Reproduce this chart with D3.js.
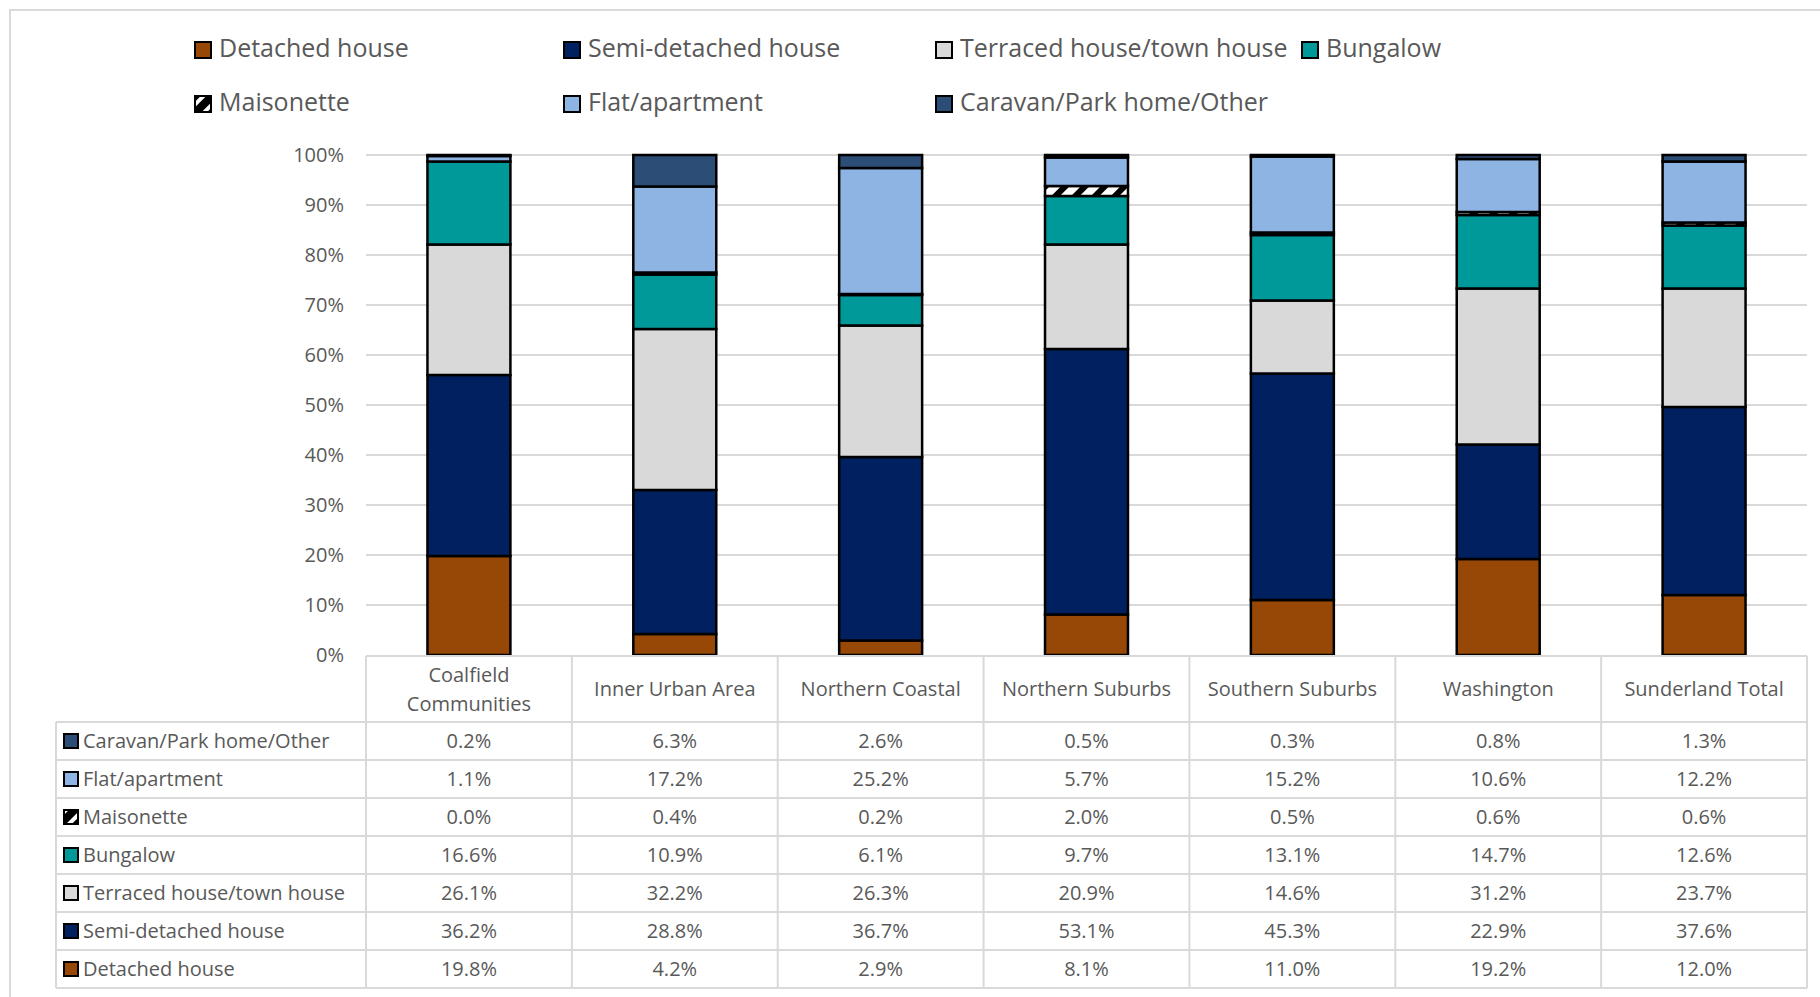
<!DOCTYPE html>
<html>
<head>
<meta charset="utf-8">
<script src="https://cdn.jsdelivr.net/npm/d3@7/dist/d3.min.js"></script>
<style>
  html, body { margin: 0; padding: 0; background: #fff; }
  svg { display: block; font-family: "Open Sans", "Noto Sans", sans-serif; }
</style>
</head>
<body>
<svg id="chart" width="1820" height="997"></svg>
<script>
// Dwelling type by area, Sunderland (percent of households)
const categories = ["Coalfield Communities", "Inner Urban Area", "Northern Coastal",
  "Northern Suburbs", "Southern Suburbs", "Washington", "Sunderland Total"];

// Series, listed from the bottom of each stack upwards
const seriesNames = ["Detached house", "Semi-detached house", "Terraced house/town house",
  "Bungalow", "Maisonette", "Flat/apartment", "Caravan/Park home/Other"];

const detached   = [19.8, 4.2, 2.9, 8.1, 11.0, 19.2, 12.0];
const semi       = [36.2, 28.8, 36.7, 53.1, 45.3, 22.9, 37.6];
const terraced   = [26.1, 32.2, 26.3, 20.9, 14.6, 31.2, 23.7];
const bungalow   = [16.6, 10.9, 6.1, 9.7, 13.1, 14.7, 12.6];
const maisonette = [0.0, 0.4, 0.2, 2.0, 0.5, 0.6, 0.6];
const flat       = [1.1, 17.2, 25.2, 5.7, 15.2, 10.6, 12.2];
const caravan    = [0.2, 6.3, 2.6, 0.5, 0.3, 0.8, 1.3];

const seriesValues = [detached, semi, terraced, bungalow, maisonette, flat, caravan];

const yTicks = [0, 0.1, 0.2, 0.3, 0.4, 0.5, 0.6, 0.7, 0.8, 0.9, 1.0];

// Legend layout: two rows of series names
const legendRows = [
  ["Detached house", "Semi-detached house", "Terraced house/town house", "Bungalow"],
  ["Maisonette", "Flat/apartment", "Caravan/Park home/Other"]
];

// ---- styles ----
const fills = {
  "Detached house": "#974706",
  "Semi-detached house": "#002060",
  "Terraced house/town house": "#D9D9D9",
  "Bungalow": "#009999",
  "Maisonette": "url(#hatch)",
  "Flat/apartment": "#8EB4E3",
  "Caravan/Park home/Other": "#2C4D75"
};
const keyFills = Object.assign({}, fills, { "Maisonette": "url(#hatchKey)" });
const textColor = "#595959";
const lineColor = "#D9D9D9";

const svg = d3.select("#chart");

// patterns for the maisonette hatch
const defs = svg.append("defs");
const hatch = defs.append("pattern")
  .attr("id", "hatch").attr("patternUnits", "userSpaceOnUse")
  .attr("width", 14).attr("height", 14)
  .attr("patternTransform", "rotate(45)");
hatch.append("rect").attr("width", 14).attr("height", 14).attr("fill", "#fff");
hatch.append("rect").attr("width", 6).attr("height", 14).attr("fill", "#000");

const hatchKey = defs.append("pattern")
  .attr("id", "hatchKey").attr("patternUnits", "userSpaceOnUse")
  .attr("width", 12).attr("height", 12)
  .attr("patternTransform", "translate(0,2) rotate(45)");
hatchKey.append("rect").attr("width", 12).attr("height", 12).attr("fill", "#000");
hatchKey.append("rect").attr("x", 4).attr("width", 4).attr("height", 12).attr("fill", "#fff");

// chart area frame
svg.append("rect")
  .attr("x", 10).attr("y", 10).attr("width", 1830).attr("height", 1000)
  .attr("fill", "none").attr("stroke", lineColor).attr("stroke-width", 2);

// ---- scales ----
const plotLeft = 366, plotRight = 1807, plotTop = 155, plotBottom = 655;
const x = d3.scaleBand().domain(categories).range([plotLeft, plotRight])
  .paddingInner(0.597).paddingOuter(0.597 / 2);
const y = d3.scaleLinear().domain([0, 1]).range([plotBottom, plotTop]);

// gridlines
svg.append("g").selectAll("line").data(yTicks.filter(t => t > 0)).join("line")
  .attr("x1", plotLeft).attr("x2", plotRight)
  .attr("y1", d => y(d)).attr("y2", d => y(d))
  .attr("stroke", lineColor).attr("stroke-width", 2);

// y axis labels
const yAxis = svg.append("g").attr("transform", `translate(${plotLeft},0)`)
  .call(d3.axisLeft(y).tickValues(yTicks).tickFormat(d3.format(".0%")).tickSize(0).tickPadding(22));
yAxis.select(".domain").remove();
yAxis.selectAll("text").attr("fill", textColor).style("font-size", "20px")
  .style("font-family", "'Open Sans', sans-serif");

// ---- stacked bars (100% stacked) ----
const rows = categories.map((c, i) => {
  const r = { category: c };
  seriesNames.forEach((s, k) => { r[s] = seriesValues[k][i]; });
  return r;
});
const stacked = d3.stack().keys(seriesNames).offset(d3.stackOffsetExpand)(rows);

svg.append("g").selectAll("g").data(stacked).join("g")
  .attr("fill", d => fills[d.key])
  .selectAll("rect").data(d => d).join("rect")
  .attr("x", d => x(d.data.category))
  .attr("width", x.bandwidth())
  .attr("y", d => y(d[1]))
  .attr("height", d => Math.max(0, y(d[0]) - y(d[1])))
  .attr("stroke", "#000").attr("stroke-width", 2.5);

// ---- legend ----
const legendX = [195, 564, 936, 1302];
const legendBase = [57, 111];
const legend = svg.append("g");
legendRows.forEach((row, ri) => {
  row.forEach((name, ci) => {
    const g = legend.append("g").attr("transform", `translate(${legendX[ci]},${legendBase[ri]})`);
    g.append("rect").attr("x", 0).attr("y", -15).attr("width", 16).attr("height", 16)
      .attr("fill", keyFills[name]).attr("stroke", "#000").attr("stroke-width", 2);
    g.append("text").attr("x", 24).attr("y", 0)
      .attr("fill", textColor).style("font-size", "25px").text(name);
  });
});

// ---- data table ----
const tableLeft = 56, headerTop = plotBottom + 1, headerBottom = 722, rowH = 38;
const tableRows = seriesNames.slice().reverse();
const tableBottom = headerBottom + rowH * tableRows.length;
const table = svg.append("g");
const colEdges = categories.map(c => x(c) - x.step() * x.paddingInner() / 2).concat([plotRight]);

// header cells
table.append("line").attr("x1", plotLeft).attr("x2", plotRight)
  .attr("y1", headerTop).attr("y2", headerTop);
// horizontal rules of the body
table.selectAll(".hrule").data(d3.range(tableRows.length + 1)).join("line")
  .attr("class", "hrule")
  .attr("x1", tableLeft).attr("x2", plotRight)
  .attr("y1", i => headerBottom + i * rowH).attr("y2", i => headerBottom + i * rowH);
// vertical rules
table.selectAll(".vrule").data(colEdges).join("line")
  .attr("class", "vrule")
  .attr("x1", d => d).attr("x2", d => d)
  .attr("y1", headerTop).attr("y2", tableBottom);
table.append("line").attr("x1", tableLeft).attr("x2", tableLeft)
  .attr("y1", headerBottom).attr("y2", tableBottom);
table.selectAll("line").attr("stroke", lineColor).attr("stroke-width", 2);

// header labels (wrapped when too wide for the cell)
categories.forEach(c => {
  const cx = x(c) + x.bandwidth() / 2;
  const t = table.append("text").attr("x", cx).attr("text-anchor", "middle")
    .attr("fill", textColor).style("font-size", "20px").text(c);
  const midY = (headerTop + headerBottom) / 2;
  if (t.node().getComputedTextLength() > x.step() - 16) {
    const words = c.split(" ");
    t.text(null);
    words.forEach((w, i) => {
      t.append("tspan").attr("x", cx)
        .attr("y", midY + (i - (words.length - 1) / 2) * 29).attr("dy", "0.35em").text(w);
    });
  } else {
    t.attr("y", midY).attr("dy", "0.35em");
  }
});

// body rows: key, series name, values
tableRows.forEach((name, ri) => {
  const k = seriesNames.indexOf(name);
  const cy = headerBottom + ri * rowH + rowH / 2;
  table.append("rect").attr("x", 64).attr("y", cy - 7).attr("width", 14).attr("height", 14)
    .attr("fill", keyFills[name]).attr("stroke", "#000").attr("stroke-width", 2);
  table.append("text").attr("x", 83).attr("y", cy).attr("dy", "0.35em")
    .attr("fill", textColor).style("font-size", "20px").text(name);
  categories.forEach((c, ci) => {
    table.append("text").attr("x", x(c) + x.bandwidth() / 2).attr("y", cy).attr("dy", "0.35em")
      .attr("text-anchor", "middle").attr("fill", textColor).style("font-size", "20px")
      .text(seriesValues[k][ci].toFixed(1) + "%");
  });
});
</script>
</body>
</html>
